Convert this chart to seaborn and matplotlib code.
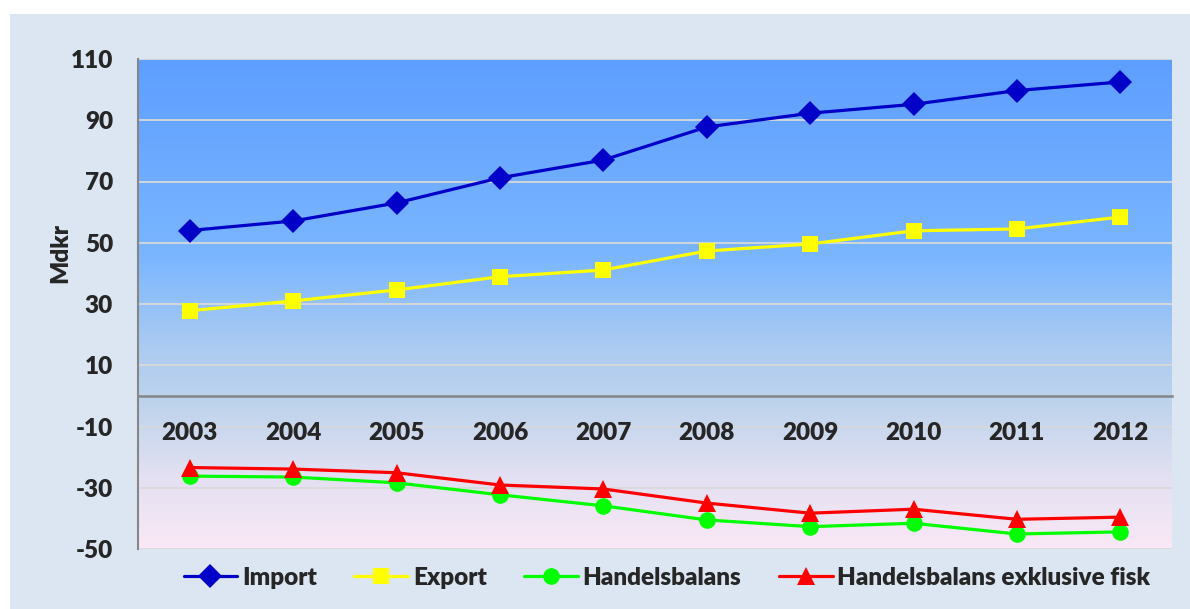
import numpy as np
import pandas as pd
import seaborn as sns
import matplotlib.pyplot as plt
from matplotlib.colors import LinearSegmentedColormap
from matplotlib.patches import Rectangle

years = ['2003', '2004', '2005', '2006', '2007', '2008', '2009', '2010', '2011', '2012']
import_vals = [54.0, 57.1, 63.0, 71.2, 77.0, 87.8, 92.3, 95.2, 99.7, 102.5]
export_vals = [27.8, 31.0, 34.6, 38.9, 41.1, 47.3, 49.6, 53.9, 54.5, 58.4]
balans_vals = [-26.2, -26.5, -28.4, -32.3, -35.9, -40.5, -42.7, -41.6, -45.1, -44.4]
balans_exfisk_vals = [-23.4, -23.9, -25.1, -29.1, -30.4, -35.0, -38.3, -37.0, -40.3, -39.6]

series_names = ['Import', 'Export', 'Handelsbalans', 'Handelsbalans exklusive fisk']
yticks = [-50, -30, -10, 10, 30, 50, 70, 90, 110]

sns.set_style('white')
plt.rcParams['font.family'] = ['Lato', 'DejaVu Sans']
plt.rcParams['axes.unicode_minus'] = False

FS = 17.5
WT = 'heavy'

fig = plt.figure(figsize=(11.9, 6.09), dpi=100, facecolor='white')
# light panel behind the chart
fig.add_artist(Rectangle((10 / 1190, 0), 1180 / 1190, (609 - 14) / 609,
                         transform=fig.transFigure, facecolor='#dce6f2',
                         edgecolor='none', zorder=-10))

ax = fig.add_axes([138 / 1190, 1 - 549 / 609, (1172 - 138) / 1190, (549 - 59) / 609])
ax.set_zorder(1)
ax.set_facecolor('none')

# vertical gradient fill of the plot area
grad_cmap = LinearSegmentedColormap.from_list('bg', [
    (0.0, (94 / 255, 158 / 255, 1.0)),
    (0.40, (122 / 255, 182 / 255, 1.0)),
    (0.60, (174 / 255, 204 / 255, 240 / 255)),
    (0.70, (188 / 255, 211 / 255, 236 / 255)),
    (0.85, (226 / 255, 224 / 255, 242 / 255)),
    (1.0, (250 / 255, 232 / 255, 246 / 255)),
])
grad = np.linspace(0, 1, 256).reshape(-1, 1)
ax.imshow(grad, extent=[-0.5, 9.5, -50, 110], aspect='auto', cmap=grad_cmap,
          origin='upper', zorder=0)

# gridlines drawn by hand so the year labels sit on top of them
ax.hlines(yticks, -0.5, 9.5, color='#d9d9d9', linewidth=1.3, zorder=0.2)

x = np.arange(len(years))
styles = [
    (import_vals, '#0000c8', 'D', 12.5),
    (export_vals, '#ffff00', 's', 12),
    (balans_vals, '#00ff00', 'o', 12),
    (balans_exfisk_vals, '#ff0000', '^', 13),
]
for name, (vals, col, mk, ms) in zip(series_names, styles):
    sns.lineplot(x=x, y=vals, ax=ax, color=col, marker=mk, markersize=ms,
                 markeredgewidth=0, linewidth=2.3, label=name, zorder=3)

ax.set_xlim(-0.5, 9.5)
ax.set_ylim(-50, 110)
ax.set_yticks(yticks)
ax.set_xticks(x)
ax.set_xticklabels(years)
ax.grid(False)
ax.set_axisbelow(False)

for side in ['top', 'right']:
    ax.spines[side].set_visible(False)
ax.spines['left'].set_color('#868686')
ax.spines['left'].set_linewidth(1.5)
ax.spines['bottom'].set_position(('data', 0))
ax.spines['bottom'].set_color('#868686')
ax.spines['bottom'].set_linewidth(1.8)

ax.tick_params(axis='x', length=0, pad=19, labelsize=FS)
ax.tick_params(axis='y', length=0, pad=18, labelsize=FS)
for lab in ax.get_xticklabels() + ax.get_yticklabels():
    lab.set_fontweight(WT)

ax.set_ylabel('Mdkr', fontsize=FS, fontweight=WT)
ax.yaxis.set_label_coords(-0.065, 0.605)

ax.legend(loc='center', bbox_to_anchor=(667 / 1190, 0.051), bbox_transform=fig.transFigure,
          ncol=4, frameon=False, handlelength=2.2, handletextpad=0.2,
          columnspacing=1.55, prop={'weight': WT, 'size': FS})

fig.savefig('out.png', dpi=100, facecolor=fig.get_facecolor())
